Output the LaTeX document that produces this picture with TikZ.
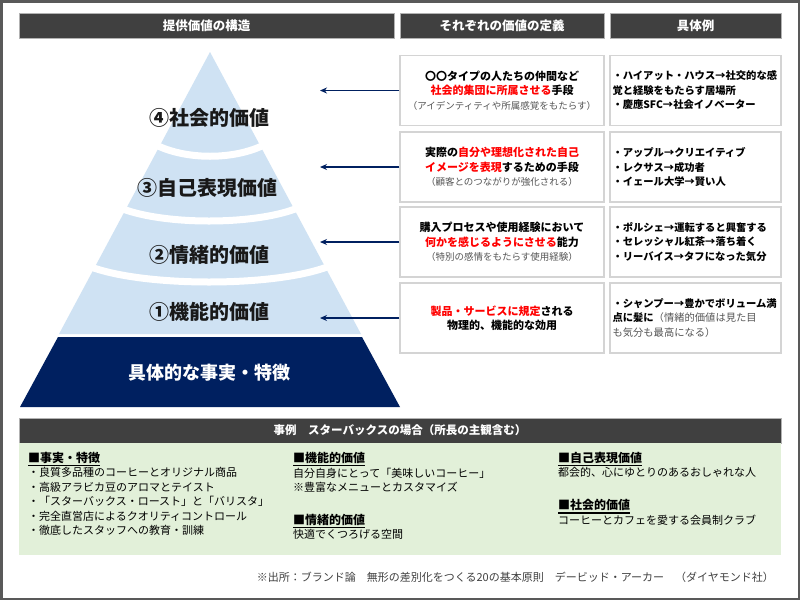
\documentclass[tikz,border=0pt]{standalone}
\usepackage{fontspec}
\setmainfont{Noto Sans CJK JP}
\usetikzlibrary{arrows.meta}
\definecolor{framegray}{HTML}{595959}
\definecolor{hdrgray}{HTML}{404040}
\definecolor{pyrblue}{HTML}{CFE2F3}
\definecolor{navy}{HTML}{002060}
\definecolor{panelgreen}{HTML}{E2F0D9}
\definecolor{boxline}{HTML}{D4D4D4}
\definecolor{accred}{HTML}{FF0000}
\definecolor{notegray}{HTML}{555555}
\newcommand{\fsz}[1]{\fontsize{#1}{14.5}\selectfont}
\newcommand{\hl}[1]{\textcolor{accred}{#1}}
\newcommand{\subnote}[1]{{\mdseries\fsz{9.5}\textcolor{notegray}{#1}}}
\newcommand{\thickul}[1]{\vtop{\hbox{#1}\kern1.2pt\hrule height 1.3pt}}
\newcommand{\casehead}[1]{{\bfseries\fsz{12}\thickul{■#1}}}

\begin{document}
\begin{tikzpicture}[x=1pt, y=-1pt,
  hdr/.style={draw=gray!60, line width=0.8pt, fill=hdrgray, text=white,
              font=\bfseries\fsz{12.5}, minimum height=25pt, inner sep=0pt},
  defbox/.style={draw=boxline, line width=1.2pt, fill=white, minimum width=204pt,
                 minimum height=70pt, align=center, font=\bfseries\fsz{11}, inner sep=0pt},
  exbox/.style={draw=boxline, line width=1.2pt, fill=white, minimum width=171pt,
                minimum height=70pt, text width=166pt, inner xsep=2.5pt, align=left,
                font=\bfseries\fsz{10.3}},
  level/.style={font=\bfseries\fsz{20}, text=black!90},
  casetxt/.style={anchor=north west, align=left, inner sep=0pt, font=\fsz{11}},
  ptr/.style={draw=navy, line width=1.5pt, -{Stealth[length=7pt,width=6pt]}}]
  \useasboundingbox (0,0) rectangle (800,600);
  \fill[white] (0,0) rectangle (800,600);
  \draw[framegray, line width=2.5pt] (1.25,1.25) rectangle (798.75,598.75);

  % column headers
  \node[hdr, minimum width=375pt] (hdrpyr) at (206.5,25.5) {提供価値の構造};
  \node[hdr, minimum width=204pt] (hdrdef) at (502,25.5) {それぞれの価値の定義};
  \node[hdr, minimum width=171pt] (hdrex) at (695.5,25.5) {具体例};

  % pyramid
  \fill[pyrblue] (210,52) -- (361,334) -- (59,334) -- cycle;
  \draw[white, line width=7pt] (146,139) .. controls (178,162) and (242,162) .. (274,139);
  \draw[white, line width=7pt] (110,203) .. controls (150,227) and (268,227) .. (308,203);
  \draw[white, line width=7pt] (78,261) .. controls (125,289) and (293,289) .. (340,261);
  \fill[navy] (58,337) -- (362,337) -- (400,407) -- (20,407) -- cycle;
  \node[level] (lv4) at (209,118) {④社会的価値};
  \node[level] (lv3) at (207,188) {③自己表現価値};
  \node[level] (lv2) at (209,255) {②情緒的価値};
  \node[level] (lv1) at (209,312) {①機能的価値};
  \node[font=\bfseries\fsz{18}, text=white] (base) at (209,373) {具体的な事実・特徴};

  % definitions
  \node[defbox] (def4) at (502,90.5) {〇〇タイプの人たちの仲間など\\
    \hl{社会的集団に所属させる}手段\\ \subnote{（アイデンティティや所属感覚をもたらす）}};
  \node[defbox] (def3) at (502,167) {実際の\hl{自分や理想化された自己}\\
    \hl{イメージを表現}するための手段\\ \subnote{（顧客とのつながりが強化される）}};
  \node[defbox] (def2) at (502,242) {購入プロセスや使用経験において\\
    \hl{何かを感じるようにさせる}能力\\ \subnote{（特別の感情をもたらす使用経験）}};
  \node[defbox] (def1) at (502,318) {\hl{製品・サービスに規定}される\\ 物理的、機能的な効用};

  % examples
  \node[exbox] (ex4) at (695.5,90.5) {・ハイアット・ハウス→社交的な感\\
    覚と経験をもたらす居場所\\ ・慶應SFC→社会イノベーター};
  \node[exbox] (ex3) at (695.5,167) {・アップル→クリエイティブ\\ ・レクサス→成功者\\
    ・イェール大学→賢い人};
  \node[exbox] (ex2) at (695.5,242) {・ポルシェ→運転すると興奮する\\
    ・セレッシャル紅茶→落ち着く\\ ・リーバイス→タフになった気分};
  \node[exbox] (ex1) at (695.5,318) {・シャンプー→豊かでボリューム満\\
    点に髪に{\mdseries\color{notegray}（情緒的価値は見た目}\\
    {\mdseries\color{notegray}も気分も最高になる）}};

  % arrows
  \coordinate (tip4) at (320,90.5);
  \coordinate (tip3) at (320,167);
  \coordinate (tip2) at (320,242);
  \coordinate (tip1) at (320,318);
  \draw[ptr] (def4.west) -- (tip4);
  \draw[ptr] (def3.west) -- (tip3);
  \draw[ptr] (def2.west) -- (tip2);
  \draw[ptr] (def1.west) -- (tip1);

  % case study
  \node[hdr, minimum width=762pt, font=\bfseries\fsz{11.5}] (hdrcase) at (400,430.5)
    {事例　スターバックスの場合（所長の主観含む）};
  \node[fill=panelgreen, minimum width=762pt, minimum height=112pt, inner sep=0pt,
        anchor=north] (panel) at (400,443) {};
  \node[casetxt] (facts) at (28,452) {\casehead{事実・特徴}\\
    ・良質多品種のコーヒーとオリジナル商品\\ ・高級アラビカ豆のアロマとテイスト\\
    ・「スターバックス・ロースト」と「バリスタ」\\ ・完全直営店によるクオリティコントロール\\
    ・徹底したスタッフへの教育・訓練};
  \node[casetxt] (funcv) at (293,452) {\casehead{機能的価値}\\
    自分自身にとって「美味しいコーヒー」\\ ※豊富なメニューとカスタマイズ\\[18.4pt]
    \casehead{情緒的価値}\\ 快適でくつろげる空間};
  \node[casetxt] (selfv) at (558,452) {\casehead{自己表現価値}\\
    都会的、心にゆとりのあるおしゃれな人\\[18.4pt]
    \casehead{社会的価値}\\ コーヒーとカフェを愛する会員制クラブ};

  \node[font=\fsz{11}, text=hdrgray, anchor=east, inner sep=0pt] (source) at (774,577)
    {※出所：ブランド論　無形の差別化をつくる20の基本原則　デービッド・アーカー　（ダイヤモンド社）};
\end{tikzpicture}
\end{document}
